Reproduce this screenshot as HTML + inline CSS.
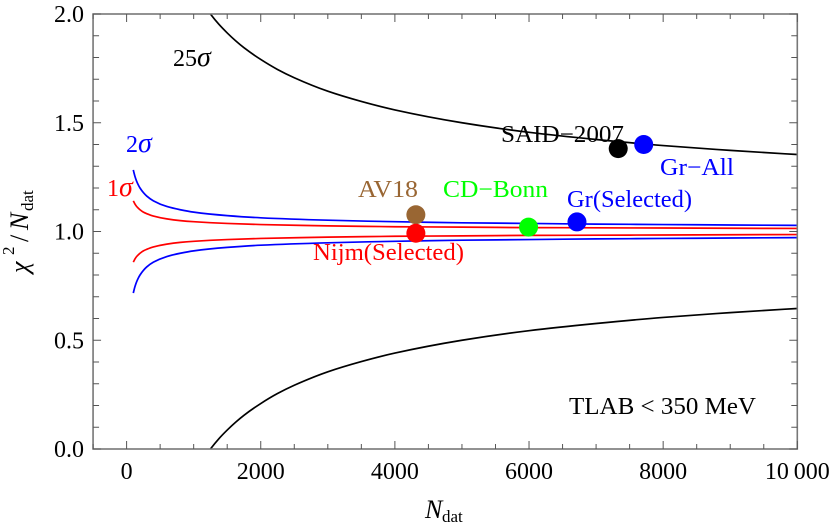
<!DOCTYPE html>
<html lang="en">
<head>
<meta charset="utf-8">
<title>Chi-squared per datum versus number of data</title>
<style>
html,body{margin:0;padding:0;background:#fff;width:830px;height:529px;overflow:hidden}
svg{display:block}
text{font-family:"Liberation Serif",serif;font-size:24px}
.it{font-style:italic}
</style>
</head>
<body>
<svg id="chart" xmlns="http://www.w3.org/2000/svg" width="830" height="529" viewBox="0 0 830 529">
  <defs><clipPath id="plot-clip"><rect x="93" y="14" width="704.5" height="435"/></clipPath></defs>
  <g id="curves" clip-path="url(#plot-clip)"></g>
  <g id="frame"></g>
  <g id="ticklabels"></g>
  <g id="points"></g>

  <text x="173" y="66" fill="#000">25<tspan class="it" font-size="28">σ</tspan></text>
  <text x="126" y="152" fill="#00f">2<tspan class="it" font-size="28">σ</tspan></text>
  <text x="107" y="196" fill="#f00">1<tspan class="it" font-size="28">σ</tspan></text>

  <text x="501" y="142" fill="#000" textLength="123" lengthAdjust="spacingAndGlyphs">SAID−2007</text>
  <text x="660" y="175" fill="#00f" textLength="74" lengthAdjust="spacingAndGlyphs">Gr−All</text>
  <text x="358" y="197" fill="#996633" textLength="60" lengthAdjust="spacingAndGlyphs">AV18</text>
  <text x="443" y="197" fill="#0f0" textLength="105" lengthAdjust="spacingAndGlyphs">CD−Bonn</text>
  <text x="567" y="207" fill="#00f" textLength="125" lengthAdjust="spacingAndGlyphs">Gr(Selected)</text>
  <text x="313" y="260" fill="#f00" textLength="151" lengthAdjust="spacingAndGlyphs">Nijm(Selected)</text>
  <text x="569" y="414" fill="#000" textLength="187" lengthAdjust="spacingAndGlyphs">TLAB &lt; 350 MeV</text>

  <text x="425" y="518" fill="#000"><tspan class="it" font-size="26">N</tspan><tspan font-size="17" x="442" y="522">dat</tspan></text>
  <text transform="translate(0,273) rotate(-90)" fill="#000"><tspan class="it" font-size="26" x="0" y="28">χ</tspan><tspan font-size="17" x="18" y="14">2</tspan><tspan font-size="26" x="31" y="28">/</tspan><tspan class="it" font-size="26" x="43" y="28">N</tspan><tspan font-size="17" x="62" y="33">dat</tspan></text>
</svg>
<script>
// Axis tick values and labels
const xMajorTicks = [0, 2000, 4000, 6000, 8000, 10000];
const xTickLabels = ['0', '2000', '4000', '6000', '8000', '10\u2009000'];
const xMinorTicks = [-500, 500, 1000, 1500, 2500, 3000, 3500, 4500, 5000, 5500, 6500, 7000, 7500, 8500, 9000, 9500];
const yMajorTicks = [0, 0.5, 1, 1.5, 2];
const yTickLabels = ['0.0', '0.5', '1.0', '1.5', '2.0'];
const yMinorTicks = [0.1, 0.2, 0.3, 0.4, 0.6, 0.7, 0.8, 0.9, 1.1, 1.2, 1.3, 1.4, 1.6, 1.7, 1.8, 1.9];

// Curve samples
const bandN = [100, 110, 125, 150, 175, 200, 250, 300, 400, 600, 800, 1000, 1500, 2000, 3000, 4000, 5000, 6000, 7000, 8000, 9000, 10000];
const oneSigmaUpper = [1.141, 1.135, 1.126, 1.115, 1.107, 1.100, 1.089, 1.082, 1.071, 1.058, 1.050, 1.045, 1.037, 1.032, 1.026, 1.022, 1.020, 1.018, 1.017, 1.016, 1.015, 1.014];
const oneSigmaLower = [0.859, 0.865, 0.874, 0.885, 0.893, 0.900, 0.911, 0.918, 0.929, 0.942, 0.950, 0.955, 0.963, 0.968, 0.974, 0.978, 0.980, 0.982, 0.983, 0.984, 0.985, 0.986];
const twoSigmaUpper = [1.283, 1.270, 1.253, 1.231, 1.214, 1.200, 1.179, 1.163, 1.141, 1.115, 1.100, 1.089, 1.073, 1.063, 1.052, 1.045, 1.040, 1.037, 1.034, 1.032, 1.030, 1.028];
const twoSigmaLower = [0.717, 0.730, 0.747, 0.769, 0.786, 0.800, 0.821, 0.837, 0.859, 0.885, 0.900, 0.911, 0.927, 0.937, 0.948, 0.955, 0.960, 0.963, 0.966, 0.968, 0.970, 0.972];
const wideN = [1250, 1375, 1500, 1625, 1750, 2000, 2250, 2500, 3000, 3500, 4000, 5000, 6000, 7000, 8000, 9000, 10000];
const wideUpper = [2.000, 1.953, 1.913, 1.877, 1.845, 1.791, 1.745, 1.707, 1.645, 1.598, 1.559, 1.500, 1.456, 1.423, 1.395, 1.373, 1.354];
const wideLower = [0.000, 0.047, 0.087, 0.123, 0.155, 0.209, 0.255, 0.293, 0.355, 0.402, 0.441, 0.500, 0.544, 0.577, 0.605, 0.627, 0.646];

// Potential points
const pointNames = ['said-2007', 'gr-all', 'av18', 'nijm-selected', 'cd-bonn', 'gr-selected'];
const pointN = [7330, 7710, 4313, 4313, 5993, 6715];
const pointChi = [1.381, 1.400, 1.077, 0.992, 1.020, 1.044];
const pointColors = ['#000', '#00f', '#996633', '#f00', '#0f0', '#00f'];

const NS = 'http://www.w3.org/2000/svg';
const X = n => 126.6 + (n / 10000) * 670.7;
const Y = c => 449 - (c / 2) * 435;

function make(tag, attrs, parent) {
  const el = document.createElementNS(NS, tag);
  for (const k in attrs) el.setAttribute(k, attrs[k]);
  parent.appendChild(el);
  return el;
}

// Monotone cubic path so unevenly spaced samples stay smooth
function smoothPath(xs, ys) {
  const p = xs.map((n, i) => [X(n), Y(ys[i])]);
  const n = p.length;
  const sec = [];
  for (let i = 0; i < n - 1; i++) sec.push((p[i + 1][1] - p[i][1]) / (p[i + 1][0] - p[i][0]));
  const m = new Array(n);
  for (let i = 1; i < n - 1; i++) {
    const h0 = p[i][0] - p[i - 1][0], h1 = p[i + 1][0] - p[i][0];
    const w1 = 2 * h1 + h0, w2 = h1 + 2 * h0;
    m[i] = sec[i - 1] * sec[i] <= 0 ? 0 : (w1 + w2) / (w1 / sec[i - 1] + w2 / sec[i]);
  }
  m[0] = 2 * sec[0] - m[1];
  m[n - 1] = 2 * sec[n - 2] - m[n - 2];
  let d = 'M' + p[0][0].toFixed(2) + ' ' + p[0][1].toFixed(2);
  for (let i = 0; i < n - 1; i++) {
    const h = p[i + 1][0] - p[i][0];
    d += 'C' + (p[i][0] + h / 3).toFixed(2) + ' ' + (p[i][1] + m[i] * h / 3).toFixed(2) + ' ' +
      (p[i + 1][0] - h / 3).toFixed(2) + ' ' + (p[i + 1][1] - m[i + 1] * h / 3).toFixed(2) + ' ' +
      p[i + 1][0].toFixed(2) + ' ' + p[i + 1][1].toFixed(2);
  }
  return d;
}

const curveLayer = document.getElementById('curves');
function addCurve(name, xs, ys, color) {
  const el = make('path', { d: smoothPath(xs, ys), fill: 'none', stroke: color, 'stroke-width': 1.7 }, curveLayer);
  
  
}
addCurve('curve-25-sigma-upper', wideN, wideUpper, '#000');
addCurve('curve-25-sigma-lower', wideN, wideLower, '#000');
addCurve('curve-2-sigma-upper', bandN, twoSigmaUpper, '#00f');
addCurve('curve-2-sigma-lower', bandN, twoSigmaLower, '#00f');
addCurve('curve-1-sigma-upper', bandN, oneSigmaUpper, '#f00');
addCurve('curve-1-sigma-lower', bandN, oneSigmaLower, '#f00');

const frame = document.getElementById('frame');
const axisColor = '#777';
const tickColor = '#555';
const L = X(-500), R = X(10000), T = Y(2), B = Y(0);
const box = make('rect', { x: L, y: T, width: R - L, height: B - T, fill: 'none', stroke: axisColor, 'stroke-width': 1.6 }, frame);



function xTick(v, len) {
  const a = make('line', { x1: X(v), x2: X(v), y1: B, y2: B - len, stroke: tickColor, 'stroke-width': 1 }, frame);
  
  
  const b = make('line', { x1: X(v), x2: X(v), y1: T, y2: T + len, stroke: tickColor, 'stroke-width': 1 }, frame);
  
  
}
function yTick(v, len) {
  const a = make('line', { x1: L, x2: L + len, y1: Y(v), y2: Y(v), stroke: tickColor, 'stroke-width': 1 }, frame);
  
  
  const b = make('line', { x1: R, x2: R - len, y1: Y(v), y2: Y(v), stroke: tickColor, 'stroke-width': 1 }, frame);
  
  
}
xMajorTicks.forEach(v => xTick(v, 8));
xMinorTicks.forEach(v => xTick(v, 5));
yMajorTicks.forEach(v => yTick(v, 8));
yMinorTicks.forEach(v => yTick(v, 6));

const labelLayer = document.getElementById('ticklabels');
xMajorTicks.forEach((v, i) => {
  const t = make('text', { x: X(v), y: 479, 'text-anchor': 'middle', fill: '#000' }, labelLayer);
  
  
  t.textContent = xTickLabels[i];
});
yMajorTicks.forEach((v, i) => {
  const t = make('text', { x: 84, y: Y(v) + 8, 'text-anchor': 'end', fill: '#000' }, labelLayer);
  
  
  t.textContent = yTickLabels[i];
});

const pointLayer = document.getElementById('points');
pointN.forEach((n, i) => {
  const c = make('circle', { cx: X(n), cy: Y(pointChi[i]), r: 9.5, fill: pointColors[i] }, pointLayer);
  
  
});
</script>
</body>
</html>
